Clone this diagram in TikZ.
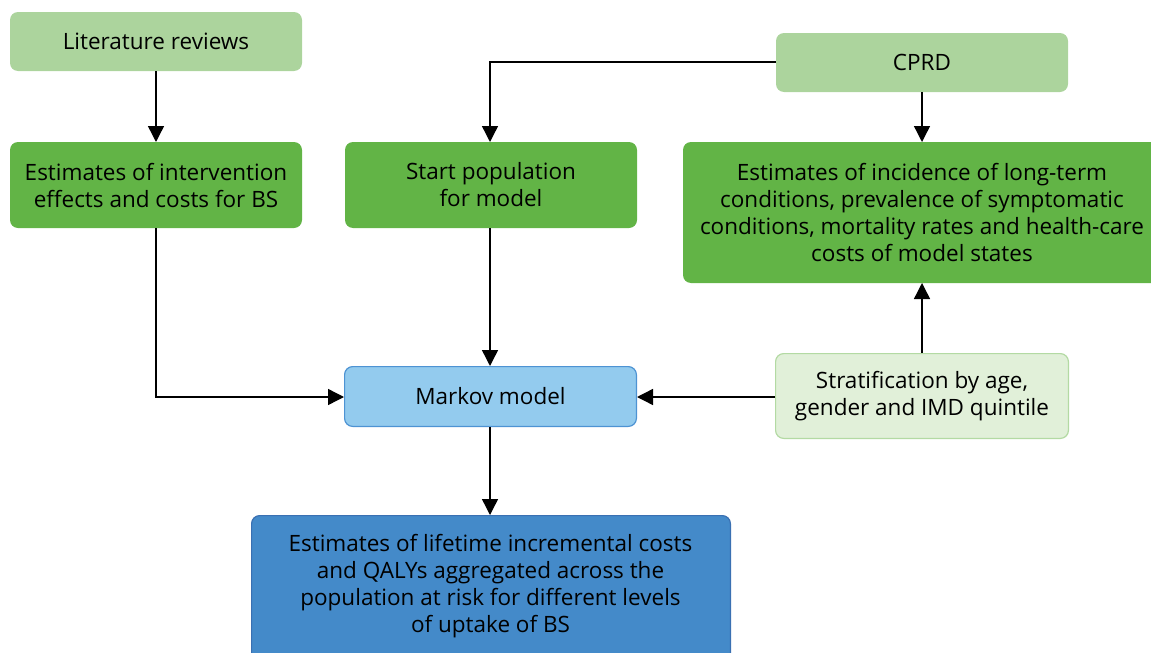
\documentclass[tikz,border=0pt]{standalone}
\usepackage{fontspec}
\setmainfont{Open Sans}
\usetikzlibrary{arrows.meta}
\definecolor{lgreen}{HTML}{ACD49D}
\definecolor{dgreen}{HTML}{62B446}
\definecolor{lblue}{HTML}{93CBEE}
\definecolor{lbluebd}{HTML}{4D93D3}
\definecolor{dblue}{HTML}{448AC9}
\definecolor{dbluebd}{HTML}{3A70B2}
\definecolor{pgreen}{HTML}{E1F0D9}
\definecolor{pgreenbd}{HTML}{B3DAA3}
\tikzset{
  box/.style={rounded corners=8pt, align=center, inner sep=0pt, font=\fontsize{22.5}{27}\selectfont},
  conn/.style={line width=1.4pt, -{Triangle[width=16pt,length=16pt]}},
}
\begin{document}
\begin{tikzpicture}[x=1pt,y=-1pt]
\useasboundingbox (0,0) rectangle (1151,653);
\fill[lgreen,rounded corners=8pt] (10,12) rectangle (302,71);
\node[box] (lit) at (156,41.5) {Literature reviews};
\fill[dgreen,rounded corners=8pt] (10,142) rectangle (302,228);
\node[box] (eint) at (156,185) {Estimates of intervention\\effects and costs for BS};
\fill[dgreen,rounded corners=8pt] (345,142) rectangle (637,228);
\node[box] (start) at (491,185) {Start population\\for model};
\fill[lgreen,rounded corners=8pt] (776,33) rectangle (1068,92);
\node[box] (cprd) at (922,62.5) {CPRD};
\fill[dgreen,rounded corners=8pt] (683,142) rectangle (1160,283);
\node[box] (einc) at (922,212.5) {Estimates of incidence of long-term\\conditions, prevalence of symptomatic\\conditions, mortality rates and health-care\\costs of model states};
\filldraw[fill=lblue,draw=lbluebd,line width=1.2pt,rounded corners=8pt] (344.6,366.6) rectangle (636.4,426.4);
\node[box] (markov) at (490.5,396.5) {Markov model};
\filldraw[fill=pgreen,draw=pgreenbd,line width=1.2pt,rounded corners=8pt] (775.6,353.6) rectangle (1068.4,438.4);
\node[box] (strat) at (922,396) {Stratification by age,\\gender and IMD quintile};
\filldraw[fill=dblue,draw=dbluebd,line width=1.2pt,rounded corners=8pt] (251.6,515.6) rectangle (730.4,665);
\node[box] (res) at (490.5,586) {Estimates of lifetime incremental costs\\and QALYs aggregated across the\\population at risk for different levels\\of uptake of BS};
\coordinate (litB) at (156,71);
\coordinate (eintT) at (156,142);
\coordinate (eintB) at (156,228);
\coordinate (cprdL) at (776,62);
\coordinate (cprdB) at (922,92);
\coordinate (startT) at (490,142);
\coordinate (startB) at (490,228);
\coordinate (eincT) at (922,142);
\coordinate (eincB) at (922,283);
\coordinate (markL) at (344,397);
\coordinate (markR) at (637,397);
\coordinate (markT) at (490,366);
\coordinate (markB) at (490,427);
\coordinate (stratL) at (775,397);
\coordinate (stratT) at (922,353);
\coordinate (resT) at (490,515);
\draw[conn] (litB) -- (eintT);
\draw[conn] (cprdL) -| (startT);
\draw[conn] (cprdB) -- (eincT);
\draw[conn] (eintB) |- (markL);
\draw[conn] (startB) -- (markT);
\draw[conn] (stratL) -- (markR);
\draw[conn] (stratT) -- (eincB);
\draw[conn] (markB) -- (resT);
\end{tikzpicture}
\end{document}
